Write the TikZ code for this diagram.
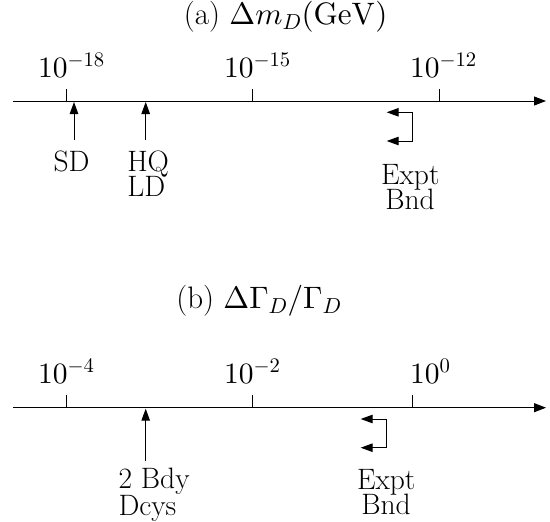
\documentclass[tikz,border=0pt]{standalone}
\DeclareFontShape{OT1}{cmr}{m}{n}{<->cmr10}{}
\DeclareFontShape{OML}{cmm}{m}{it}{<->cmmi10}{}
\DeclareFontShape{OMS}{cmsy}{m}{n}{<->cmsy10}{}
\usetikzlibrary{arrows.meta}
\tikzset{
  lbl/.style={font=\fontsize{29.5}{25}\selectfont, inner sep=0pt, outer sep=0pt},
  ttl/.style={font=\fontsize{31}{31}\selectfont, inner sep=0pt, outer sep=0pt},
  axisline/.style={line width=1pt, -{Triangle[length=12pt,width=9pt]}},
  tickline/.style={line width=1pt},
  ptr/.style={line width=1pt, -{Triangle[length=12pt,width=8.5pt]}},
}
\begin{document}
\begin{tikzpicture}[x=1pt,y=-1pt]
\useasboundingbox (0,0) rectangle (550,522);
% ---------------- panel (a) ----------------
\node[ttl, anchor=base] (ta) at (285.7,24.5) {(a) $\Delta m_D(\mathrm{GeV})$};
\coordinate (aL) at (13,101);
\coordinate (aR) at (546,101);
\draw[axisline] (aL) -- (aR);
\coordinate (at1) at (66,101);   \coordinate (at1t) at (66,89);
\coordinate (at2) at (252.7,101);\coordinate (at2t) at (252.7,89);
\coordinate (at3) at (439.3,101);\coordinate (at3t) at (439.3,89);
\draw[tickline] (at1) -- (at1t);
\draw[tickline] (at2) -- (at2t);
\draw[tickline] (at3) -- (at3t);
\node[lbl, anchor=base west] (al1) at (38,77.3) {$10^{-18}$};
\node[lbl, anchor=base west] (al2) at (224,77.3) {$10^{-15}$};
\node[lbl, anchor=base west] (al3) at (410,77.3) {$10^{-12}$};
% SD
\node[lbl, anchor=base] (sd) at (71.5,171.7) {SD};
\coordinate (sdS) at (74,140);
\coordinate (sdE) at (74,102);
\draw[ptr] (sdS) -- (sdE);
% HQ LD
\node[lbl, anchor=base west] (hq) at (127.3,171.7) {HQ};
\node[lbl, anchor=base west] (ld) at (127.3,196.7) {LD};
\coordinate (hqS) at (145.7,140);
\coordinate (hqE) at (145.7,102);
\draw[ptr] (hqS) -- (hqE);
% Expt bound
\coordinate (ab1) at (412.7,112.3);
\coordinate (ab2) at (412.7,141);
\coordinate (ae1) at (386.7,112.3);
\coordinate (ae2) at (386.7,141);
\draw[ptr] (ab1) -- (ae1);
\draw[ptr] (ab1) -- (ab2) -- (ae2);
\node[lbl, anchor=base] (aex) at (410.3,184.3) {Expt};
\node[lbl, anchor=base] (abn) at (410,209.5) {Bnd};
% ---------------- panel (b) ----------------
\node[ttl, anchor=base] (tb) at (259,308.5) {(b) $\Delta\Gamma_D/\Gamma_D$};
\coordinate (bL) at (13,407.7);
\coordinate (bR) at (546,407.7);
\draw[axisline] (bL) -- (bR);
\coordinate (bt1) at (66,407.7);   \coordinate (bt1t) at (66,395);
\coordinate (bt2) at (252.7,407.7);\coordinate (bt2t) at (252.7,395);
\coordinate (bt3) at (412.7,407.7);\coordinate (bt3t) at (412.7,395);
\draw[tickline] (bt1) -- (bt1t);
\draw[tickline] (bt2) -- (bt2t);
\draw[tickline] (bt3) -- (bt3t);
\node[lbl, anchor=base west] (bl1) at (38,383.3) {$10^{-4}$};
\node[lbl, anchor=base west] (bl2) at (224,383.3) {$10^{-2}$};
\node[lbl, anchor=base west] (bl3) at (410,383.3) {$10^{0}$};
% 2 Bdy Dcys
\node[lbl, anchor=base west] (bdy) at (118.5,488.3) {2 Bdy};
\node[lbl, anchor=base west] (dcy) at (118.5,515) {Dcys};
\coordinate (bdS) at (145.7,460.7);
\coordinate (bdE) at (145.7,408.7);
\draw[ptr] (bdS) -- (bdE);
% Expt bound
\coordinate (bb1) at (386,419);
\coordinate (bb2) at (386,447.7);
\coordinate (be1) at (360.7,419);
\coordinate (be2) at (360.7,447.7);
\draw[ptr] (bb1) -- (be1);
\draw[ptr] (bb1) -- (bb2) -- (be2);
\node[lbl, anchor=base] (bex) at (386.2,489) {Expt};
\node[lbl, anchor=base] (bbn) at (386,514.5) {Bnd};
\end{tikzpicture}
\end{document}
